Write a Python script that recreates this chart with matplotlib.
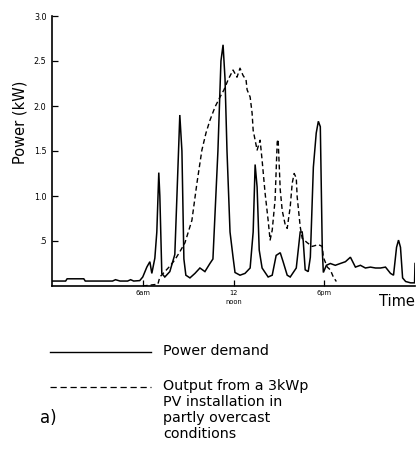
import matplotlib
matplotlib.use("Agg")
import matplotlib.pyplot as plt
from matplotlib.lines import Line2D

# Household power demand over one day (hours from midnight, kW)
demand_hours = [0.0, 0.9, 1.0, 2.1, 2.2, 4.0, 4.2, 4.5, 5.0, 5.2, 5.4, 5.8, 6.0,
                6.27, 6.47, 6.6, 6.8, 6.93, 7.06, 7.13, 7.26, 7.46, 7.79, 8.12,
                8.26, 8.45, 8.59, 8.72, 8.85, 9.12, 9.45, 9.78, 10.11, 10.44,
                10.64, 10.97, 11.17, 11.31, 11.44, 11.57, 11.77, 11.97, 12.1,
                12.43, 12.76, 13.1, 13.3, 13.43, 13.56, 13.7, 13.89, 14.09,
                14.29, 14.56, 14.82, 15.09, 15.28, 15.55, 15.75, 16.15, 16.41,
                16.54, 16.61, 16.74, 16.94, 17.08, 17.28, 17.47, 17.61, 17.74,
                17.8, 17.87, 17.94, 18.14, 18.4, 18.73, 19.06, 19.4, 19.73,
                20.06, 20.39, 20.72, 21.05, 21.39, 21.72, 22.05, 22.38, 22.58,
                22.78, 22.91, 23.04, 23.18, 23.38, 23.71, 23.97, 24.0]
demand_kw = [0.055, 0.055, 0.08, 0.08, 0.055, 0.055, 0.07, 0.055, 0.055, 0.07,
             0.055, 0.06, 0.1,
             0.21, 0.27, 0.14, 0.31, 0.6, 1.26, 1.0, 0.14, 0.1, 0.16, 0.35,
             1.0, 1.9, 1.5, 0.3, 0.12, 0.09, 0.14, 0.2, 0.16, 0.25,
             0.3, 1.5, 2.5, 2.68, 2.3, 1.5, 0.6, 0.32, 0.15,
             0.12, 0.14, 0.2, 0.6, 1.35, 1.1, 0.4, 0.2, 0.15,
             0.1, 0.12, 0.34, 0.37, 0.27, 0.12, 0.1, 0.2, 0.6,
             0.6, 0.5, 0.18, 0.16, 0.32, 1.32, 1.7, 1.83, 1.77,
             1.14, 0.4, 0.15, 0.23, 0.25, 0.23, 0.25, 0.27, 0.32,
             0.21, 0.23, 0.2, 0.21, 0.2, 0.2, 0.21, 0.14, 0.12,
             0.43, 0.51, 0.43, 0.09, 0.05, 0.035, 0.035, 0.25]

# Output of a 3 kWp PV array under partly overcast sky
pv_hours = [6.0, 7.0, 7.13, 7.46, 7.79, 8.12, 8.45, 8.79, 9.25, 9.58, 9.91,
            10.18, 10.44, 10.78, 11.11, 11.37, 11.64, 11.97, 12.23, 12.43,
            12.63, 12.83, 12.9, 13.1, 13.23, 13.3, 13.56, 13.76, 13.89, 14.09,
            14.29, 14.42, 14.56, 14.75, 14.89, 14.95, 15.09, 15.22, 15.42,
            15.55, 15.75, 15.88, 16.01, 16.15, 16.21, 16.41, 16.54, 16.88,
            17.21, 17.61, 17.87, 17.94, 18.2, 18.4, 18.6, 18.8]
pv_kw = [0.0, 0.02, 0.1, 0.16, 0.22, 0.29, 0.38, 0.48, 0.73, 1.14, 1.51,
         1.7, 1.84, 1.99, 2.1, 2.18, 2.29, 2.4, 2.32, 2.42,
         2.34, 2.29, 2.18, 2.1, 1.92, 1.73, 1.51, 1.62, 1.4, 1.03,
         0.73, 0.51, 0.62, 0.96, 1.6, 1.63, 1.07, 0.84, 0.68,
         0.64, 0.88, 1.14, 1.25, 1.2, 0.99, 0.66, 0.53, 0.48,
         0.44, 0.46, 0.44, 0.32, 0.21, 0.18, 0.1, 0.05]

y_ticks = [0.5, 1.0, 1.5, 2.0, 2.5, 3.0]
y_tick_labels = [".5", "1.0", "1.5", "2.0", "2.5", "3.0"]
x_ticks = [6, 12, 18]
x_tick_labels = ["6am", "12\nnoon", "6pm"]

W, H = 417, 449
fig = plt.figure(figsize=(W / 100, H / 100), dpi=100)
ax = fig.add_axes([52 / W, 1 - 286 / H, (415 - 52) / W, (286 - 16) / H])

ax.plot(demand_hours, demand_kw, color="black", lw=1.1, solid_joinstyle="miter")
ax.plot(pv_hours, pv_kw, color="black", lw=1.0, dashes=(3.5, 2.2))

ax.set_xlim(0, 24)
ax.set_ylim(0, 3.0)
for side in ("top", "right"):
    ax.spines[side].set_visible(False)
for side in ("left", "bottom"):
    ax.spines[side].set_linewidth(1.2)

ax.set_yticks(y_ticks)
ax.set_yticklabels(y_tick_labels, fontsize=5.8)
ax.tick_params(axis="y", direction="in", length=4.5, width=0.9, pad=4)
ax.set_xticks(x_ticks)
ax.set_xticklabels(x_tick_labels, fontsize=4.8, linespacing=1.5)
ax.tick_params(axis="x", direction="in", length=4, width=0.9, pad=3)

fig.text(20 / W, 1 - 122 / H, "Power (kW)", rotation=90, fontsize=10.5,
         ha="center", va="center")
fig.text(415 / W, 1 - 301 / H, "Time", fontsize=10.5, ha="right", va="center")

# Key
def key_line(y_px, **style):
    fig.add_artist(Line2D([50 / W, 151 / W], [1 - y_px / H, 1 - y_px / H],
                          transform=fig.transFigure, color="black", **style))

key_line(352, lw=1.0)
key_line(387, lw=0.9, dashes=(5.0, 3.0))
fig.text(163 / W, 1 - 351 / H, "Power demand", fontsize=10.3, va="center")
fig.text(163 / W, 1 - 379 / H,
         "Output from a 3kWp\nPV installation in\npartly overcast\nconditions",
         fontsize=10.3, va="top", linespacing=1.18)
fig.text(40 / W, 1 - 418 / H, "a)", fontsize=12, va="center")

fig.savefig("out.png", dpi=100)
